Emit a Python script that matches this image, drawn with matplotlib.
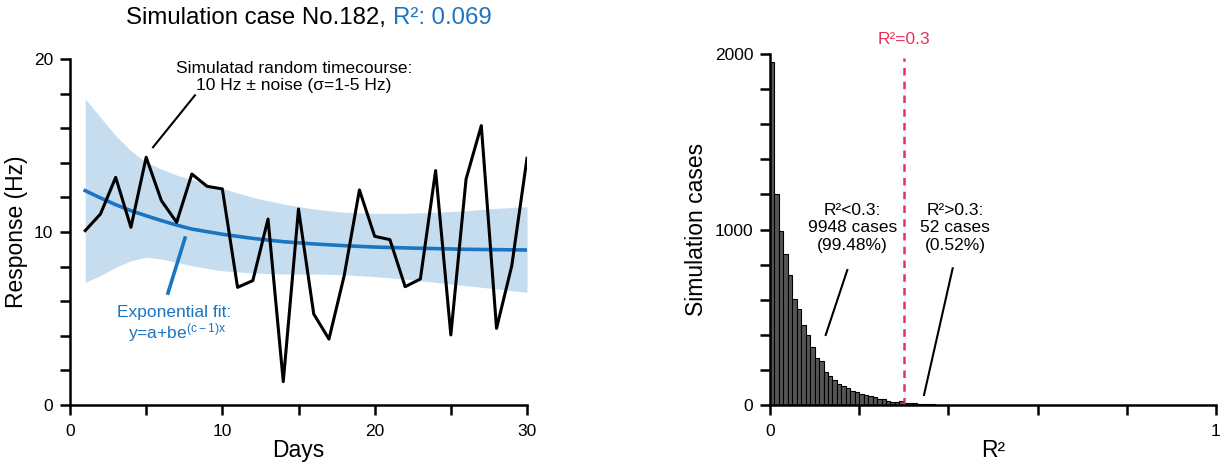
import numpy as np
import matplotlib
matplotlib.use('Agg')
import matplotlib.pyplot as plt

plt.rcParams['font.family'] = ['Liberation Sans', 'DejaVu Sans']
plt.rcParams['mathtext.fontset'] = 'custom'
plt.rcParams['mathtext.rm'] = 'Liberation Sans'
plt.rcParams['mathtext.it'] = 'Liberation Sans'

BLUE = '#1a75c2'
BAND = '#c6ddf0'
RED = '#e8305a'

# simulated timecourse (case No.182)
days = list(range(1, 31))
response = [10.08, 11.04, 13.16, 10.27, 14.32, 11.81, 10.56, 13.35, 12.64, 12.49,
            6.80, 7.19, 10.75, 1.35, 11.33, 5.26, 3.81, 7.48, 12.43, 9.75,
            9.56, 6.84, 7.28, 13.55, 4.05, 13.06, 16.15, 4.43, 8.05, 14.26]

# exponential fit
fit_days = [1, 2, 3, 4, 5, 6, 7, 8, 9, 10, 12, 14, 16, 18, 20, 22, 24, 26, 28, 30]
fit_vals = [12.39, 11.97, 11.58, 11.23, 10.94, 10.66, 10.40, 10.17, 10.02, 9.87,
            9.63, 9.44, 9.31, 9.21, 9.13, 9.08, 9.04, 9.00, 8.98, 8.96]
band_upper = [17.69, 16.63, 15.57, 14.70, 14.03, 13.64, 13.29, 13.03, 12.77, 12.52,
              12.00, 11.62, 11.33, 11.14, 11.08, 11.08, 11.14, 11.23, 11.37, 11.46]
band_lower = [7.09, 7.48, 7.96, 8.34, 8.54, 8.44, 8.25, 8.05, 7.90, 7.76,
              7.63, 7.57, 7.57, 7.53, 7.42, 7.28, 7.09, 6.90, 6.71, 6.51]

# histogram of R^2 over 10000 simulations, bin width 0.01
bin_left = [i / 100 for i in range(41)]
counts = [1952, 1200, 994, 858, 740, 606, 548, 453, 400, 333,
          267, 250, 190, 167, 145, 120, 108, 98, 82, 72,
          63, 55, 52, 46, 36, 32, 25, 17, 15, 23,
          9, 10, 9, 7, 5, 4, 3, 2, 2, 1, 0]

fig = plt.figure(figsize=(12.25, 4.71), dpi=100)
W, H = 1225, 471
FS = 12.5

def style(ax):
    for s in ['top', 'right']:
        ax.spines[s].set_visible(False)
    for s in ['left', 'bottom']:
        ax.spines[s].set_linewidth(1.8)
    ax.tick_params(which='both', width=1.8, length=7, labelsize=12.5)
    ax.tick_params(axis='x', pad=7)
    ax.tick_params(axis='y', pad=5)

# ---- left: timecourse ----
ax1 = fig.add_axes([70 / W, 1 - 405 / H, 457 / W, 346 / H])
ax1.fill_between(fit_days, band_lower, band_upper, color=BAND, lw=0)
ax1.plot(fit_days, fit_vals, color=BLUE, lw=2.6)
ax1.plot(days, response, color='black', lw=2.2)
ax1.set_xlim(0, 30)
ax1.set_ylim(0, 20)
ax1.set_xticks(range(0, 31, 5))
ax1.set_xticklabels(['0', '', '10', '', '20', '', '30'])
ax1.set_yticks(range(0, 21, 2))
ax1.set_yticklabels(['0', '', '', '', '', '10', '', '', '', '', '20'])
style(ax1)
ax1.set_xlabel('Days', fontsize=16.5, labelpad=0)
ax1.set_ylabel('Response (Hz)', fontsize=16.5, labelpad=4)

ax1.plot([5.45, 8.2], [14.9, 17.9], color='black', lw=1.5)
ax1.text(14.7, 18.96, 'Simulatad random timecourse:\n10 Hz \u00b1 noise (\u03c3=1-5 Hz)',
         ha='center', va='center', fontsize=FS, linespacing=1.2)
ax1.plot([7.55, 6.43], [9.65, 6.47], color=BLUE, lw=2.6)
ax1.text(6.85, 5.32, 'Exponential fit:', ha='center', va='center', fontsize=FS, color=BLUE)
ax1.text(7.0, 4.16, 'y=a+be$^{\\mathrm{(c-1)x}}$', ha='center', va='center',
         fontsize=FS, color=BLUE)

# title in two colours
fig.text(386 / W, 1 - 18 / H, 'Simulation case No.182,', ha='right', va='center', fontsize=17.3)
fig.text(393 / W, 1 - 18 / H, 'R\u00b2: 0.069', ha='left', va='center', fontsize=17.3, color=BLUE)

# ---- right: histogram ----
ax2 = fig.add_axes([770 / W, 1 - 405 / H, 446 / W, 351 / H])
ax2.bar(bin_left, counts, width=0.01, align='edge', color='#555555',
        edgecolor='black', linewidth=0.8)
ax2.set_xlim(0, 1)
ax2.set_ylim(0, 2000)
ax2.set_xticks(np.arange(0, 1.01, 0.2))
ax2.set_xticklabels(['0', '', '', '', '', '1'])
ax2.set_yticks(range(0, 2001, 200))
ax2.set_yticklabels(['0', '', '', '', '', '1000', '', '', '', '', '2000'])
style(ax2)
ax2.set_xlabel('R\u00b2', fontsize=16.5, labelpad=0)
ax2.set_ylabel('Simulation cases', fontsize=16.5, labelpad=5)

ax2.plot([0.3, 0.3], [0, 1980], color=RED, lw=1.8, ls=(0, (3, 2.5)))
ax2.text(0.3, 2085, 'R\u00b2=0.3', color=RED, ha='center', va='center', fontsize=FS,
         clip_on=False)
ax2.text(0.1854, 1009, 'R\u00b2<0.3:\n9948 cases\n(99.48%)', ha='center', va='center',
         fontsize=FS, linespacing=1.2)
ax2.plot([0.1733, 0.1249], [769, 399], color='black', lw=1.5)
ax2.text(0.415, 1009, 'R\u00b2>0.3:\n52 cases\n(0.52%)', ha='center', va='center',
         fontsize=FS, linespacing=1.2)
ax2.plot([0.4096, 0.3453], [779, 57], color='black', lw=1.5)

fig.savefig('out.png', dpi=100)
